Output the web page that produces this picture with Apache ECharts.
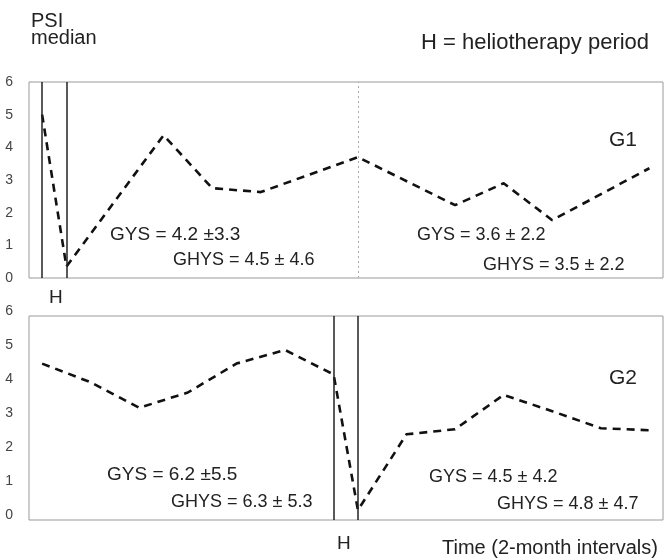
<!DOCTYPE html>
<html><head><meta charset="utf-8">
<script src="https://cdn.jsdelivr.net/npm/echarts@6/dist/echarts.min.js"></script>
<style>html,body{margin:0;padding:0;background:#fff}#c{width:667px;height:560px}</style>
</head><body><div id="c"></div>
<script>
// time in 2-month intervals, PSI median
const g1Time = [0, 0.5, 2.5, 3.5, 4.5, 6.5, 8.5, 9.5, 10.5, 12.5];
const g1Psi  = [5.0, 0.35, 4.37, 2.75, 2.63, 3.7, 2.23, 2.9, 1.77, 3.36];
const g2Time = [0, 1, 2, 3, 4, 5, 6, 6.5, 7.5, 8.5, 9.5, 10.5, 11.5, 12.5];
const g2Psi  = [4.6, 4.05, 3.3, 3.75, 4.6, 5.0, 4.28, 0.29, 2.52, 2.67, 3.68, 3.2, 2.7, 2.64];
const g1Helio = [0, 0.5];
const g2Helio = [6, 6.5];
const g1Divider = 6.5;
const yTicks = [0, 1, 2, 3, 4, 5, 6];

const FONT = 'Arial, "Liberation Sans", Helvetica, sans-serif';
const chart = echarts.init(document.getElementById('c'));
const pairs = (xs, ys) => xs.map((x, i) => [x, ys[i]]);

const xBase = {type: 'value', min: -0.27, max: 12.78, show: false};
const yBase = (label) => ({
  type: 'value', min: yTicks[0], max: yTicks[yTicks.length - 1], interval: 1,
  axisLine: {show: false}, axisTick: {show: false}, splitLine: {show: false},
  axisLabel: Object.assign({color: '#444', fontSize: 14, fontFamily: FONT, margin: 16}, label)
});
const dash = {color: '#111', width: 2.6, type: [8, 6]};

const txt = (x, y, s, size) => ({
  type: 'text', x: x, y: y,
  style: {text: s, fontSize: size, fontFamily: FONT, fill: '#222', verticalAlign: 'middle', align: 'left'}
});

chart.setOption({
  animation: false,
  grid: [
    {left: 29, top: 82, width: 634, height: 196, show: true, borderColor: '#999', borderWidth: 1},
    {left: 29, top: 316, width: 634, height: 204, show: true, borderColor: '#999', borderWidth: 1}
  ],
  xAxis: [Object.assign({gridIndex: 0}, xBase), Object.assign({gridIndex: 1}, xBase)],
  yAxis: [
    Object.assign({gridIndex: 0}, yBase({})),
    Object.assign({gridIndex: 1}, yBase({verticalAlign: 'bottom', lineHeight: 10}))
  ],
  series: [
    {
      type: 'line', xAxisIndex: 0, yAxisIndex: 0, data: pairs(g1Time, g1Psi),
      symbol: 'none', lineStyle: dash,
      markLine: {
        silent: true, symbol: 'none', label: {show: false},
        data: g1Helio.map(v => ({xAxis: v, lineStyle: {color: '#222', width: 1.5, type: 'solid'}}))
          .concat([{xAxis: g1Divider, lineStyle: {color: '#aaa', width: 1, type: [2, 3]}}])
      }
    },
    {
      type: 'line', xAxisIndex: 1, yAxisIndex: 1, data: pairs(g2Time, g2Psi),
      symbol: 'none', lineStyle: dash,
      markLine: {
        silent: true, symbol: 'none', label: {show: false},
        lineStyle: {color: '#222', width: 1.5, type: 'solid'},
        data: g2Helio.map(v => ({xAxis: v}))
      }
    }
  ],
  graphic: [
    txt(31, 21, 'PSI', 20),
    txt(31, 38, 'median', 20),
    txt(421, 43, 'H = heliotherapy period', 22),
    txt(609, 140, 'G1', 21),
    txt(110, 235, 'GYS = 4.2 \u00b13.3', 19),
    txt(173, 260, 'GHYS = 4.5 \u00b1 4.6', 18),
    txt(417, 235, 'GYS = 3.6 \u00b1 2.2', 18),
    txt(483, 265, 'GHYS = 3.5 \u00b1 2.2', 18),
    txt(49, 298, 'H', 19),
    txt(609, 378, 'G2', 21),
    txt(107, 475, 'GYS = 6.2 \u00b15.5', 19),
    txt(171, 502, 'GHYS = 6.3 \u00b1 5.3', 18),
    txt(429, 477, 'GYS = 4.5 \u00b1 4.2', 18),
    txt(497, 504, 'GHYS = 4.8 \u00b1 4.7', 18),
    txt(337, 544, 'H', 19),
    txt(442, 548, 'Time (2-month intervals)', 20)
  ]
});
</script></body></html>
